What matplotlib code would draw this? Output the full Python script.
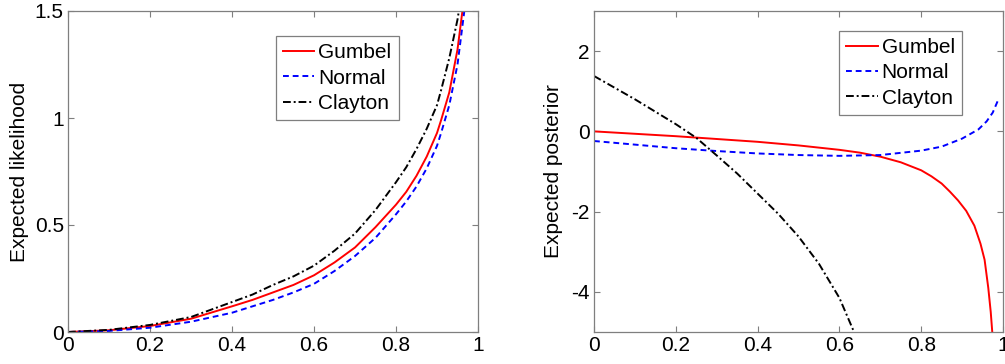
import matplotlib
matplotlib.use("Agg")
import matplotlib.pyplot as plt

plt.rcParams['font.family'] = ['Liberation Sans', 'DejaVu Sans']

# ---- Left panel: expected likelihood ----
lik_x = [0, 0.1, 0.2, 0.3, 0.4, 0.45, 0.5, 0.55, 0.6, 0.65, 0.7, 0.75, 0.8,
         0.825, 0.85, 0.875, 0.9, 0.91, 0.93, 0.95, 0.97]
lik_gumbel = [0, 0.008, 0.028, 0.062, 0.12, 0.15, 0.185, 0.22, 0.265, 0.325,
              0.395, 0.49, 0.595, 0.655, 0.73, 0.82, 0.93, 0.99, 1.12, 1.32, 1.62]
lik_normal = [0, 0.005, 0.02, 0.048, 0.09, 0.12, 0.15, 0.185, 0.225, 0.285,
              0.355, 0.44, 0.55, 0.61, 0.68, 0.765, 0.87, 0.93, 1.06, 1.25, 1.55]
lik_clayton = [0, 0.01, 0.033, 0.07, 0.14, 0.175, 0.22, 0.26, 0.31, 0.38,
               0.46, 0.57, 0.70, 0.77, 0.855, 0.95, 1.06, 1.13, 1.28, 1.46, 1.7]

# ---- Right panel: expected posterior ----
post_x_g = [0, 0.1, 0.2, 0.3, 0.4, 0.5, 0.6, 0.65, 0.7, 0.75, 0.8, 0.825,
            0.85, 0.87, 0.89, 0.91, 0.93, 0.945, 0.955, 0.964, 0.97, 0.976]
post_gumbel = [0, -0.06, -0.12, -0.19, -0.26, -0.35, -0.46, -0.53, -0.63,
               -0.77, -0.97, -1.12, -1.3, -1.5, -1.72, -1.98, -2.35, -2.8,
               -3.2, -3.9, -4.5, -5.3]
post_x_n = [0, 0.1, 0.2, 0.3, 0.4, 0.5, 0.6, 0.7, 0.8, 0.85, 0.9, 0.94,
            0.96, 0.975, 0.988]
post_normal = [-0.24, -0.33, -0.42, -0.49, -0.55, -0.59, -0.61, -0.59, -0.48,
               -0.38, -0.18, 0.05, 0.25, 0.47, 0.78]
post_x_c = [0, 0.1, 0.2, 0.25, 0.3, 0.35, 0.4, 0.45, 0.5, 0.55, 0.6, 0.64]
post_clayton = [1.38, 0.8, 0.18, -0.16, -0.6, -1.05, -1.55, -2.05, -2.62,
                -3.3, -4.15, -5.1]

labels = ['Gumbel', 'Normal', 'Clayton']

fig = plt.figure(figsize=(10.05, 3.64), dpi=100)
ax1 = fig.add_axes([68 / 1005, 32 / 364, 410 / 1005, 321 / 364])
ax2 = fig.add_axes([594 / 1005, 32 / 364, 409 / 1005, 321 / 364])

lw = 1.4
fs = 15

ax1.plot(lik_x, lik_gumbel, color='#ff0000', lw=lw, label=labels[0])
ax1.plot(lik_x, lik_normal, color='#0000ff', lw=lw, ls=(0, (3, 2)), label=labels[1])
ax1.plot(lik_x, lik_clayton, color='black', lw=lw, ls=(0, (4, 1.5, 1, 1.5)), label=labels[2])
ax1.set_xlim(0, 1)
ax1.set_ylim(0, 1.5)
ax1.set_xticks([0, 0.2, 0.4, 0.6, 0.8, 1])
ax1.set_xticklabels(['0', '0.2', '0.4', '0.6', '0.8', '1'])
ax1.set_yticks([0, 0.5, 1, 1.5])
ax1.set_yticklabels(['0', '0.5', '1', '1.5'])
ax1.set_ylabel('Expected likelihood', fontsize=fs, labelpad=4)

ax2.plot(post_x_g, post_gumbel, color='#ff0000', lw=lw, label=labels[0])
ax2.plot(post_x_n, post_normal, color='#0000ff', lw=lw, ls=(0, (3, 2)), label=labels[1])
ax2.plot(post_x_c, post_clayton, color='black', lw=lw, ls=(0, (4, 1.5, 1, 1.5)), label=labels[2])
ax2.set_xlim(0, 1)
ax2.set_ylim(-5, 3)
ax2.set_xticks([0, 0.2, 0.4, 0.6, 0.8, 1])
ax2.set_xticklabels(['0', '0.2', '0.4', '0.6', '0.8', '1'])
ax2.set_yticks([-4, -2, 0, 2])
ax2.set_yticklabels(['-4', '-2', '0', '2'])
ax2.set_ylabel('Expected posterior', fontsize=fs, labelpad=6)

for ax in (ax1, ax2):
    for sp in ax.spines.values():
        sp.set_color('#7f7f7f')
        sp.set_linewidth(0.9)
    ax.tick_params(direction='in', length=4, width=0.8, color='#7f7f7f',
                   labelsize=fs, labelcolor='black', top=True, right=True, pad=3)

leg_kw = dict(fontsize=fs, handlelength=1.5, handletextpad=0.2,
              labelspacing=0.3, borderpad=0.35, borderaxespad=0,
              fancybox=False, framealpha=1, edgecolor='#7f7f7f', loc='upper right')
l1 = ax1.legend(bbox_to_anchor=(0.807, 0.922), **leg_kw)
l2 = ax2.legend(bbox_to_anchor=(0.90, 0.938), **leg_kw)
for l in (l1, l2):
    l.get_frame().set_linewidth(0.9)

fig.savefig('out.png', dpi=100)
